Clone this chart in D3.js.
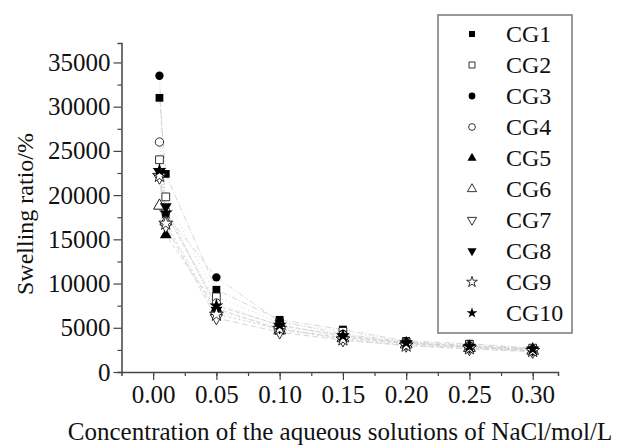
<!DOCTYPE html>
<html>
<head>
<meta charset="utf-8">
<script src="https://cdn.jsdelivr.net/npm/d3@7"></script>
<style>
  html, body { margin: 0; padding: 0; background: #fff; }
  svg { display: block; font-family: "Liberation Serif", "Times New Roman", serif; }
</style>
</head>
<body>
<svg id="chart" width="625" height="447"></svg>
<script>
// NaCl concentrations (mol/L)
const concentrations = [0.005, 0.01, 0.05, 0.10, 0.15, 0.20, 0.25, 0.30];

// Swelling ratio (%) of each gel sample
const seriesNames = ["CG1", "CG2", "CG3", "CG4", "CG5", "CG6", "CG7", "CG8", "CG9", "CG10"];
const cg1  = [31000, 22400, 9300, 5900, 4800, 3500, 3200, 2700];
const cg2  = [24000, 19800, 8500, 5600, 4600, 3400, 3100, 2700];
const cg3  = [33500, 17900, 10700, 5700, 4300, 3400, 3000, 2600];
const cg4  = [26000, 18200, 7800, 5200, 4200, 3300, 2900, 2500];
const cg5  = [18800, 15500, 7200, 4800, 3900, 3200, 2800, 2400];
const cg6  = [18800, 17000, 6800, 4700, 3800, 3100, 2700, 2400];
const cg7  = [22000, 16500, 6100, 4500, 3600, 3000, 2600, 2300];
const cg8  = [22600, 18700, 7000, 5000, 4000, 3200, 2800, 2500];
const cg9  = [22200, 16800, 6500, 4900, 3700, 3000, 2700, 2400];
const cg10 = [22800, 18000, 7500, 5300, 4100, 3300, 2900, 2600];
const seriesValues = [cg1, cg2, cg3, cg4, cg5, cg6, cg7, cg8, cg9, cg10];

const xTicks = [0.00, 0.05, 0.10, 0.15, 0.20, 0.25, 0.30];
const yTicks = [0, 5000, 10000, 15000, 20000, 25000, 30000, 35000];

const xTitle = "Concentration of the aqueous solutions of NaCl/mol/L";
const yTitle = "Swelling ratio/%";

// marker style per series: shape, filled?
const markerShape = ["square", "square", "circle", "circle", "tri", "tri", "triDown", "triDown", "star", "star"];
const markerFilled = [true, false, true, false, true, false, false, true, false, true];
const dashes = ["6,2,1,2", "1,3", "5,2,1,2,1,2", "1,2", "4,3", "1,3", "6,3", "1,2", "2,3", "5,2"];

const svg = d3.select("#chart");

const x = d3.scaleLinear().domain([-0.025, 0.32]).range([121.5, 558]);
const y = d3.scaleLinear().domain([0, 37200]).range([372, 43]);

const axisColor = "#444";
const fontSize = 25;

function symbolFor(shape) {
  if (shape === "square") return d3.symbolSquare;
  if (shape === "circle") return d3.symbolCircle;
  if (shape === "star") return d3.symbolStar;
  return d3.symbolTriangle;
}
function marker(g, shape, filled, cx, cy, size) {
  return g.append("path")
    .attr("d", d3.symbol().type(symbolFor(shape)).size(size)())
    .attr("transform", `translate(${cx},${cy})` + (shape === "triDown" ? " rotate(180)" : ""))
    .attr("fill", filled ? "#000" : "#fff")
    .attr("stroke", "#000")
    .attr("stroke-width", filled ? 0 : 0.8);
}

// faint connecting lines
const line = d3.line().x((d, i) => x(concentrations[i])).y(d => y(d));
const lines = svg.append("g");
seriesValues.forEach((vals, k) => {
  lines.append("path")
    .attr("d", line(vals))
    .attr("fill", "none")
    .attr("stroke", "#c4c4c4")
    .attr("stroke-width", 0.7)
    .attr("stroke-dasharray", dashes[k]);
});

// markers
const marks = svg.append("g");
seriesValues.forEach((vals, k) => {
  vals.forEach((v, i) => {
    const sz = markerShape[k] === "circle" ? 55 : 60;
    marker(marks, markerShape[k], markerFilled[k], x(concentrations[i]), y(v), sz);
  });
});

// x axis
const xMinor = d3.range(-0.025, 0.3201, 0.025).filter(t => t > -0.02);
const xAxisG = svg.append("g").attr("transform", `translate(0,${y(0)})`);
xAxisG.call(d3.axisBottom(x).tickValues(xMinor).tickSize(4).tickFormat(""));
xAxisG.append("g").call(d3.axisBottom(x).tickValues(xTicks).tickSize(8).tickPadding(5).tickFormat(d3.format(".2f")));
xAxisG.selectAll("line").attr("stroke", axisColor).attr("stroke-width", 1.2);
xAxisG.selectAll("g > g > path.domain").remove();
xAxisG.selectAll("path.domain").attr("stroke", axisColor).attr("stroke-width", 1.5);
xAxisG.selectAll("text").attr("font-size", fontSize).attr("fill", "#111").attr("font-family", "Liberation Serif");

// y axis
const yMinor = d3.range(2500, 37200, 5000);
const yAxisG = svg.append("g").attr("transform", `translate(${x.range()[0]},0)`);
yAxisG.call(d3.axisLeft(y).tickValues(yMinor).tickSize(4).tickFormat(""));
yAxisG.append("g").call(d3.axisLeft(y).tickValues(yTicks).tickSize(8).tickPadding(3).tickFormat(d3.format("d")));
yAxisG.selectAll("line").attr("stroke", axisColor).attr("stroke-width", 1.2);
yAxisG.selectAll("g > g > path.domain").remove();
yAxisG.selectAll("path.domain").attr("stroke", axisColor).attr("stroke-width", 1.5);
yAxisG.selectAll("text").attr("font-size", fontSize).attr("fill", "#111").attr("font-family", "Liberation Serif");

// axis titles
svg.append("text")
  .attr("x", 340).attr("y", 440)
  .attr("text-anchor", "middle")
  .attr("font-size", fontSize).attr("fill", "#111")
  .text(xTitle);
svg.append("text")
  .attr("transform", "translate(33,214) rotate(-90)")
  .attr("text-anchor", "middle")
  .attr("font-size", 24).attr("fill", "#111")
  .text(yTitle);

// legend
const leg = svg.append("g");
leg.append("rect")
  .attr("x", 438).attr("y", 15).attr("width", 134).attr("height", 318)
  .attr("fill", "#fff").attr("stroke", "#777").attr("stroke-width", 1.5);
seriesNames.forEach((name, k) => {
  const cy = 34 + k * 31;
  marker(leg, markerShape[k], markerFilled[k], 472, cy, 36);
  leg.append("text")
    .attr("x", 506).attr("y", cy).attr("dy", "0.35em")
    .attr("font-size", 24).attr("fill", "#111")
    .text(name);
});
</script>
</body>
</html>
